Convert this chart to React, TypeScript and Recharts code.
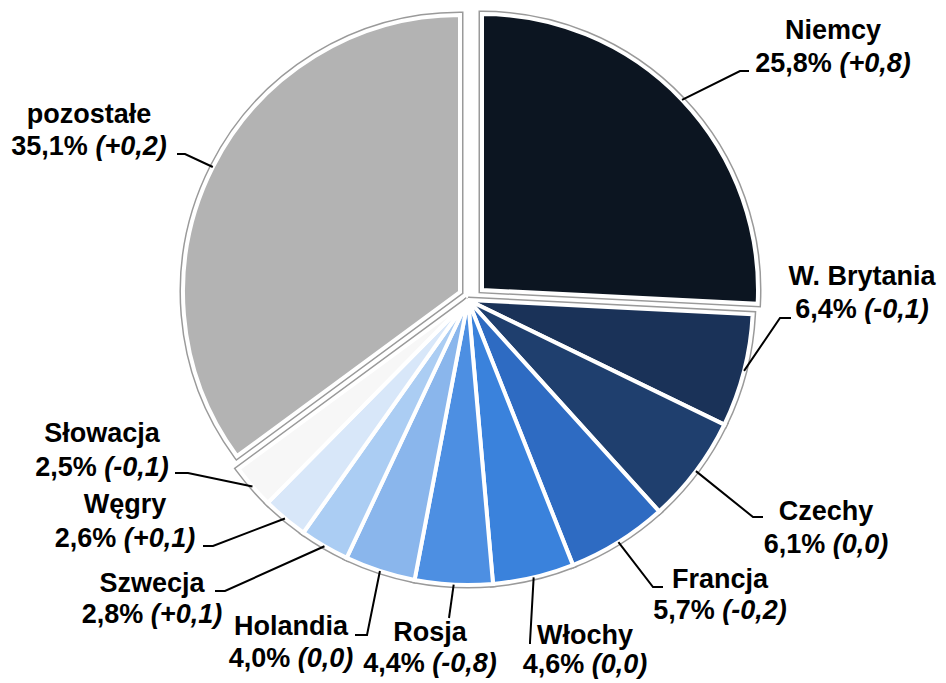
import React from "react";
import { PieChart, Pie, Cell } from "recharts";

const countries = ["Niemcy", "W. Brytania", "Czechy", "Francja", "Włochy", "Rosja", "Holandia", "Szwecja", "Węgry", "Słowacja", "pozostałe"];
const shares = [25.8, 6.4, 6.1, 5.7, 4.6, 4.4, 4.0, 2.8, 2.6, 2.5, 35.1];
const changes = ["+0,8", "-0,1", "0,0", "-0,2", "0,0", "-0,8", "0,0", "+0,1", "+0,1", "-0,1", "+0,2"];

const colors = ["#0c1521", "#1a3258", "#1f3f6e", "#2e6bc2", "#3a82dc", "#4d8fe2", "#8ab6ec", "#abcdf3", "#d8e7f9", "#f7f7f7", "#b3b3b3"];

const data = countries.map((name, i) => ({ name, value: shares[i], change: changes[i] }));

// where each label sits (text centre / first baseline / gap to 2nd line) and its leader elbow + end
const labelLayout = [
  { x: 833, y: 39, gap: 33, elbow: [740, 71], end: [749, 71] },
  { x: 862, y: 285, gap: 33, elbow: [780, 318], end: [791, 318] },
  { x: 826, y: 520, gap: 33, elbow: [753, 517], end: [763, 517] },
  { x: 720, y: 588, gap: 31, elbow: [653, 587], end: [663, 587] },
  { x: 585, y: 644, gap: 29, elbow: [530, 642], end: [530, 644] },
  { x: 430, y: 641, gap: 31, elbow: [449, 618], end: [449, 618] },
  { x: 291, y: 635, gap: 32, elbow: [367, 635], end: [355, 635] },
  { x: 152, y: 592, gap: 31, elbow: [225, 591], end: [215, 591] },
  { x: 125, y: 513, gap: 34, elbow: [213, 546], end: [203, 546] },
  { x: 102, y: 442, gap: 34, elbow: [188, 473], end: [175, 473] },
  { x: 89, y: 123, gap: 32, elbow: [185, 154], end: [177, 154] },
];

const RADIAN = Math.PI / 180;
const font = "'Liberation Sans', Arial, sans-serif";

const makeLabel = (visible: number[]) => (props: any) => {
  const { cx, cy, midAngle, outerRadius, index } = props;
  if (!visible.includes(index)) return null;
  const sx = cx + outerRadius * Math.cos(-midAngle * RADIAN);
  const sy = cy + outerRadius * Math.sin(-midAngle * RADIAN);
  const l = labelLayout[index];
  const d = data[index];
  const pct = d.value.toFixed(1).replace(".", ",") + "% ";
  return (
    <g key={"lbl" + index}>
      <polyline points={`${sx},${sy} ${l.elbow[0]},${l.elbow[1]} ${l.end[0]},${l.end[1]}`} fill="none" stroke="#000" strokeWidth={2} />
      <text x={l.x} y={l.y} textAnchor="middle" fontFamily={font} fontWeight="bold" fontSize={27} fill="#000">
        {d.name}
      </text>
      <text x={l.x} y={l.y + l.gap} textAnchor="middle" fontFamily={font} fontWeight="bold" fontSize={27} fill="#000">
        {pct}
        <tspan fontStyle="italic">({d.change})</tspan>
      </text>
    </g>
  );
};

const MAIN = { cx: 468, cy: 300, r: 285 };
const TOP_RIGHT = { cx: 482, cy: 290, r: 276 };
const TOP_LEFT = { cx: 460, cy: 292, r: 277 };

const groups = [
  { pos: MAIN, show: [1, 2, 3, 4, 5, 6, 7, 8, 9] },
  { pos: TOP_RIGHT, show: [0] },
  { pos: TOP_LEFT, show: [10] },
];

export default function App() {
  return (
    <div style={{ position: "absolute", left: 0, top: 0, background: "#fff" }}>
      <PieChart width={946} height={683} margin={{ top: 0, right: 0, bottom: 0, left: 0 }}>
        {groups.map((g, gi) => (
          <Pie
            key={"edge" + gi}
            data={data}
            dataKey="value"
            cx={g.pos.cx}
            cy={g.pos.cy}
            outerRadius={g.pos.r}
            startAngle={90}
            endAngle={-270}
            isAnimationActive={false}
            labelLine={false}
          >
            {data.map((d, i) => (
              <Cell key={i} fill={g.show.includes(i) ? colors[i] : "none"} stroke={g.show.includes(i) ? "#9a9a9a" : "none"} strokeWidth={7} />
            ))}
          </Pie>
        ))}
        {groups.map((g, gi) => (
          <Pie
            key={"fill" + gi}
            data={data}
            dataKey="value"
            cx={g.pos.cx}
            cy={g.pos.cy}
            outerRadius={g.pos.r}
            startAngle={90}
            endAngle={-270}
            isAnimationActive={false}
            labelLine={false}
            label={makeLabel(g.show)}
          >
            {data.map((d, i) => (
              <Cell key={i} fill={g.show.includes(i) ? colors[i] : "none"} stroke={g.show.includes(i) ? "#ffffff" : "none"} strokeWidth={4} />
            ))}
          </Pie>
        ))}
      </PieChart>
    </div>
  );
}
